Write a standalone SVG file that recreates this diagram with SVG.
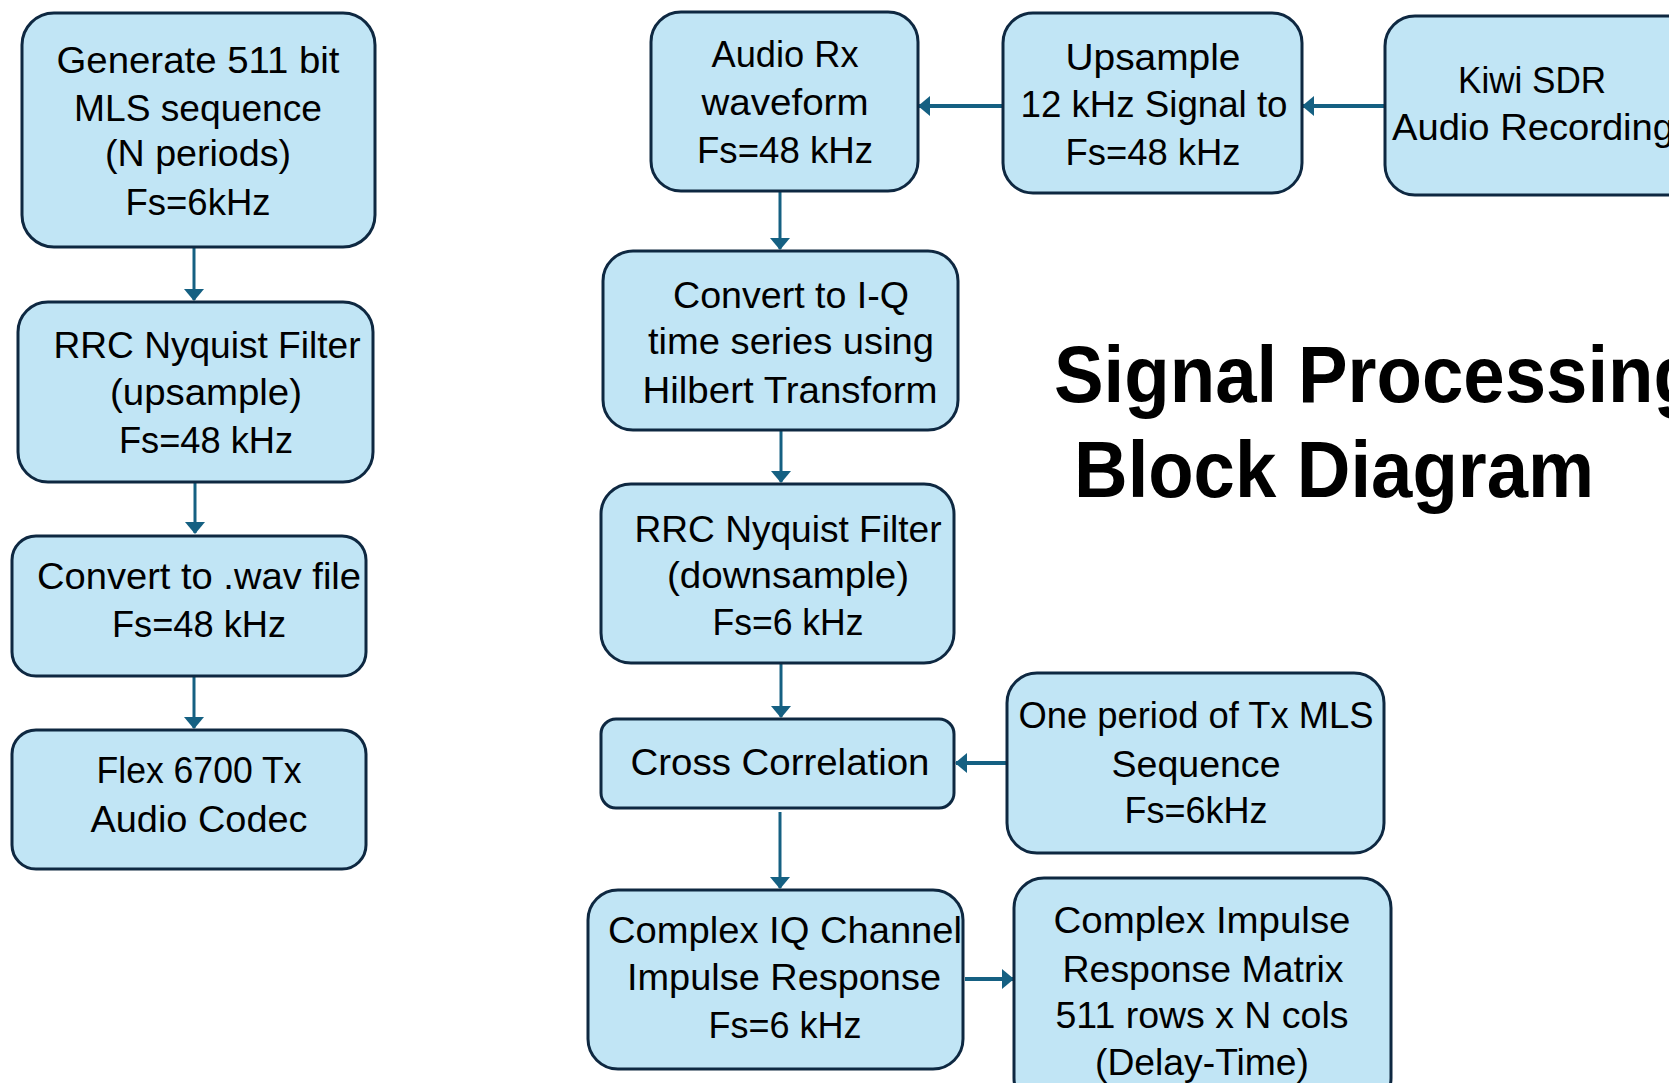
<svg xmlns="http://www.w3.org/2000/svg" width="1669" height="1083" viewBox="0 0 1669 1083">
<style>
.box{fill:#C1E5F5;stroke:#0E2841;stroke-width:3}
.t{font-family:"Liberation Sans",Arial,sans-serif;font-size:36px;fill:#000;text-anchor:middle}
.ts{font-family:"Liberation Sans",Arial,sans-serif;font-size:36px;fill:#000;text-anchor:start}
.title{font-family:"Liberation Sans",Arial,sans-serif;font-size:80px;font-weight:bold;fill:#000}
.c{fill:none;stroke:#156082;stroke-width:3}
.ch{fill:none;stroke:#156082;stroke-width:4}
</style>
<defs>
<marker id="ah" viewBox="0 0 12 20" refX="11" refY="10" markerWidth="12" markerHeight="20" markerUnits="userSpaceOnUse" orient="auto">
<path d="M0,0 L12,10 L0,20 z" fill="#156082"/>
</marker>
</defs>
<rect width="1669" height="1083" fill="#fff"/>

<g id="connectors">
<path class="c" d="M194,247 V300" marker-end="url(#ah)"/>
<path class="c" d="M195,482 V533" marker-end="url(#ah)"/>
<path class="c" d="M194,676 V728" marker-end="url(#ah)"/>
<path class="ch" d="M1003,106 H919" marker-end="url(#ah)"/>
<path class="ch" d="M1385,106 H1303" marker-end="url(#ah)"/>
<path class="c" d="M780,191 V249" marker-end="url(#ah)"/>
<path class="c" d="M781,430 V482" marker-end="url(#ah)"/>
<path class="c" d="M781,663 V717" marker-end="url(#ah)"/>
<path class="ch" d="M1007,763 H956" marker-end="url(#ah)"/>
<path class="c" d="M780,812 V888" marker-end="url(#ah)"/>
<path class="ch" d="M965,979 H1013" marker-end="url(#ah)"/>
</g>

<g id="gen-mls">
<rect class="box" x="22" y="13" width="353" height="234" rx="32"/>
<text class="t" x="198" y="73" textLength="283" lengthAdjust="spacingAndGlyphs">Generate 511 bit</text>
<text class="t" x="198" y="121" textLength="248" lengthAdjust="spacingAndGlyphs">MLS sequence</text>
<text class="t" x="198" y="166" textLength="186" lengthAdjust="spacingAndGlyphs">(N periods)</text>
<text class="t" x="198" y="215" textLength="145" lengthAdjust="spacingAndGlyphs">Fs=6kHz</text>
</g>

<g id="rrc-up">
<rect class="box" x="18" y="302" width="355" height="180" rx="30"/>
<text class="t" x="207" y="358" textLength="307" lengthAdjust="spacingAndGlyphs">RRC Nyquist Filter</text>
<text class="t" x="206" y="405" textLength="192" lengthAdjust="spacingAndGlyphs">(upsample)</text>
<text class="t" x="206" y="453" textLength="174" lengthAdjust="spacingAndGlyphs">Fs=48 kHz</text>
</g>

<g id="wav">
<rect class="box" x="12" y="536" width="354" height="140" rx="24"/>
<text class="t" x="199" y="589" textLength="324" lengthAdjust="spacingAndGlyphs">Convert to .wav file</text>
<text class="t" x="199" y="637" textLength="174" lengthAdjust="spacingAndGlyphs">Fs=48 kHz</text>
</g>

<g id="flex">
<rect class="box" x="12" y="730" width="354" height="139" rx="24"/>
<text class="t" x="199" y="783" textLength="205" lengthAdjust="spacingAndGlyphs">Flex 6700 Tx</text>
<text class="t" x="199" y="832" textLength="217" lengthAdjust="spacingAndGlyphs">Audio Codec</text>
</g>

<g id="audio-rx">
<rect class="box" x="651" y="12" width="267" height="179" rx="30"/>
<text class="t" x="785" y="67" textLength="147" lengthAdjust="spacingAndGlyphs">Audio Rx</text>
<text class="t" x="785" y="115" textLength="167" lengthAdjust="spacingAndGlyphs">waveform</text>
<text class="t" x="785" y="163" textLength="176" lengthAdjust="spacingAndGlyphs">Fs=48 kHz</text>
</g>

<g id="upsample">
<rect class="box" x="1003" y="13" width="299" height="180" rx="30"/>
<text class="t" x="1153" y="70" textLength="175" lengthAdjust="spacingAndGlyphs">Upsample</text>
<text class="t" x="1154" y="117" textLength="267" lengthAdjust="spacingAndGlyphs">12 kHz Signal to</text>
<text class="t" x="1153" y="165" textLength="175" lengthAdjust="spacingAndGlyphs">Fs=48 kHz</text>
</g>

<g id="kiwi">
<rect class="box" x="1385" y="16" width="320" height="179" rx="30"/>
<text class="t" x="1532" y="93" textLength="148" lengthAdjust="spacingAndGlyphs">Kiwi SDR</text>
<text class="ts" x="1392" y="140" textLength="282" lengthAdjust="spacingAndGlyphs">Audio Recording</text>
</g>

<g id="iq">
<rect class="box" x="603" y="251" width="355" height="179" rx="30"/>
<text class="t" x="791" y="308" textLength="236" lengthAdjust="spacingAndGlyphs">Convert to I-Q</text>
<text class="t" x="791" y="354" textLength="286" lengthAdjust="spacingAndGlyphs">time series using</text>
<text class="t" x="790" y="403" textLength="295" lengthAdjust="spacingAndGlyphs">Hilbert Transform</text>
</g>

<g id="rrc-down">
<rect class="box" x="601" y="484" width="353" height="179" rx="30"/>
<text class="t" x="788" y="542" textLength="307" lengthAdjust="spacingAndGlyphs">RRC Nyquist Filter</text>
<text class="t" x="788" y="588" textLength="242" lengthAdjust="spacingAndGlyphs">(downsample)</text>
<text class="t" x="788" y="635" textLength="151" lengthAdjust="spacingAndGlyphs">Fs=6 kHz</text>
</g>

<g id="xcorr">
<rect class="box" x="601" y="719" width="353" height="89" rx="15"/>
<text class="t" x="780" y="775" textLength="299" lengthAdjust="spacingAndGlyphs">Cross Correlation</text>
</g>

<g id="one-period">
<rect class="box" x="1007" y="673" width="377" height="180" rx="30"/>
<text class="t" x="1196" y="728" textLength="355" lengthAdjust="spacingAndGlyphs">One period of Tx MLS</text>
<text class="t" x="1196" y="777" textLength="169" lengthAdjust="spacingAndGlyphs">Sequence</text>
<text class="t" x="1196" y="823" textLength="143" lengthAdjust="spacingAndGlyphs">Fs=6kHz</text>
</g>

<g id="complex-iq">
<rect class="box" x="588" y="890" width="375" height="179" rx="30"/>
<text class="t" x="785" y="943" textLength="354" lengthAdjust="spacingAndGlyphs">Complex IQ Channel</text>
<text class="t" x="784" y="990" textLength="314" lengthAdjust="spacingAndGlyphs">Impulse Response</text>
<text class="t" x="785" y="1038" textLength="153" lengthAdjust="spacingAndGlyphs">Fs=6 kHz</text>
</g>

<g id="matrix">
<rect class="box" x="1014" y="878" width="377" height="230" rx="30"/>
<text class="t" x="1202" y="933" textLength="297" lengthAdjust="spacingAndGlyphs">Complex Impulse</text>
<text class="t" x="1203" y="982" textLength="281" lengthAdjust="spacingAndGlyphs">Response Matrix</text>
<text class="t" x="1202" y="1028" textLength="293" lengthAdjust="spacingAndGlyphs">511 rows x N cols</text>
<text class="t" x="1202" y="1075" textLength="214" lengthAdjust="spacingAndGlyphs">(Delay-Time)</text>
</g>

<g id="title">
<text class="title" x="1054" y="402" textLength="645" lengthAdjust="spacingAndGlyphs">Signal Processing</text>
<text class="title" x="1074" y="497" textLength="520" lengthAdjust="spacingAndGlyphs">Block Diagram</text>
</g>
</svg>
